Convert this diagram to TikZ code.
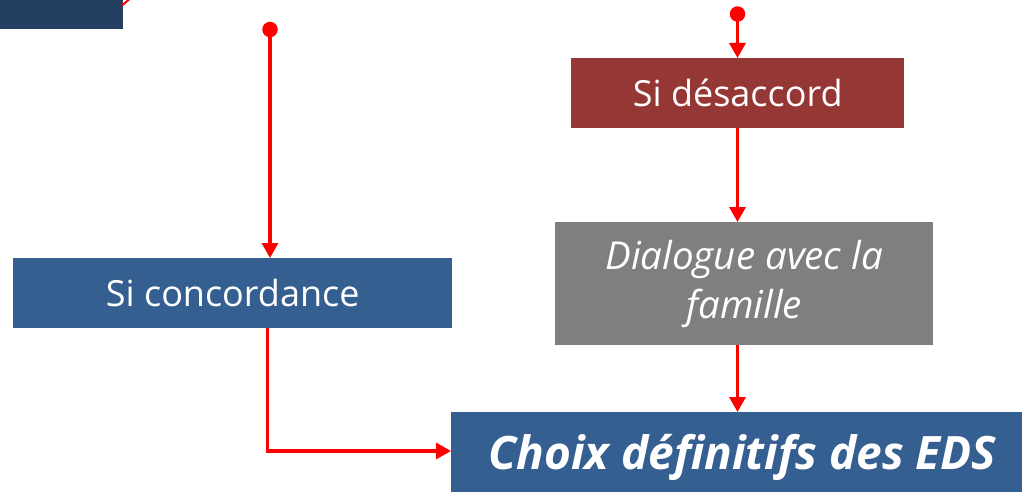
\documentclass[tikz,border=0pt]{standalone}
\usepackage{fontspec}
\setmainfont{Open Sans}
\usetikzlibrary{arrows.meta}
\definecolor{navy}{HTML}{243F60}
\definecolor{bluebox}{HTML}{365F91}
\definecolor{redbox}{HTML}{953735}
\definecolor{graybox}{HTML}{7F7F7F}
\definecolor{linered}{HTML}{FF0000}
\tikzset{
  box/.style={draw=none, text=white, inner sep=0pt, anchor=north west},
  conn/.style={draw=linered, line width=3.3pt, -{Triangle[length=15pt,width=16pt]}},
  dot/.style={circle, fill=linered, minimum size=15.5pt, inner sep=0pt},
}
\begin{document}
\begin{tikzpicture}[x=1pt,y=-1pt]
\useasboundingbox (0,0) rectangle (1022,492);
% partial box at top-left
\fill[navy] (0,0) rectangle (123,29);
\fill[linered] (121,5) -- (128,-1) -- (130,0) -- (123,6) -- cycle;
% boxes
\node[box, fill=bluebox, minimum width=439pt, minimum height=70pt, font=\fontsize{36}{42}\selectfont] (conc) at (13,258) {Si concordance};
\node[box, fill=redbox, minimum width=333pt, minimum height=70pt, font=\fontsize{36}{42}\selectfont] (desac) at (571,58) {Si désaccord};
\node[box, fill=graybox, minimum width=378pt, minimum height=123pt, align=center, font=\fontsize{38.5}{49}\selectfont\itshape] (dial) at (555,222) {Dialogue avec la\\famille};
\node[box, fill=bluebox, minimum width=571pt, minimum height=80pt] (choix) at (451,412) {};
\node[anchor=base west, inner sep=0pt, text=white, font=\fontsize{46}{52}\selectfont\bfseries\itshape] (choixtxt) at (488,469) {Choix définitifs des EDS};
% dots
\node[dot] (d1) at (270,29.5) {};
\node[dot] (d2) at (737.5,14) {};
% connectors
\draw[conn] (d1.center) -- (d1.center |- conc.north);
\draw[conn] (d2.center) -- (d2.center |- desac.north);
\draw[conn] (d2.center |- desac.south) -- (d2.center |- dial.north);
\draw[conn] (d2.center |- dial.south) -- (d2.center |- choix.north);
\draw[conn] (267.3,0 |- conc.south) -- (267.3,451) -- (choix.west |- 0,451);
\end{tikzpicture}
\end{document}
